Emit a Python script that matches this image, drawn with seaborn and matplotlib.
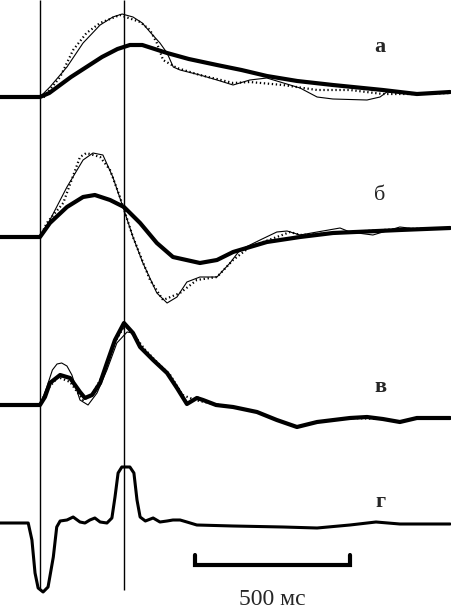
import matplotlib
matplotlib.use("Agg")
import matplotlib.pyplot as plt
import seaborn as sns

# time in ms (0 = first vertical line), amplitude in arbitrary units (up = positive)

# panel а
a_thick_t = [-129, 0, 30, 65, 100, 150, 200, 250, 290, 330, 410, 480, 571, 650, 732, 830, 945, 1106, 1216, 1270, 1323]
a_thick_v = [0, 0, 4, 12, 20, 30, 40, 48, 52, 52, 44, 38, 32, 27, 21, 16, 12, 7, 3, 4, 5]
a_thin_t = [-129, 0, 32, 87, 139, 194, 235, 265, 300, 330, 355, 387, 410, 430, 452, 516, 571, 623, 677, 732, 839, 894, 945, 1055, 1097, 1119, 1216, 1323]
a_thin_v = [0, 0, 10, 30, 54, 72, 80, 83, 80, 74, 65, 54, 44, 30, 27, 22, 17, 12, 17, 19, 9, 0, -2, -3, 0, 5, 3, 4]
a_dot_t = [-129, 0, 10, 65, 107, 150, 194, 258, 323, 355, 377, 397, 442, 516, 571, 623, 677, 784, 894, 1000, 1106, 1216, 1323]
a_dot_v = [0, 0, -1, 20, 47, 64, 74, 82, 75, 67, 54, 37, 29, 22, 18, 14, 15, 12, 7, 7, 3, 3, 4]

# panel б
b_thick_t = [-129, 0, 32, 87, 139, 177, 226, 271, 323, 377, 429, 516, 571, 623, 732, 839, 945, 1161, 1323]
b_thick_v = [0, 0, 14, 30, 40, 42, 37, 30, 14, -6, -20, -26, -23, -15, -5, 0, 4, 7, 9]
b_thin_t = [-129, 0, 32, 87, 139, 171, 203, 235, 271, 300, 332, 377, 410, 442, 474, 516, 571, 613, 645, 710, 764, 797, 839, 968, 1000, 1074, 1161, 1216, 1323]
b_thin_v = [0, 0, 17, 50, 77, 84, 82, 60, 27, 0, -26, -56, -66, -60, -45, -40, -40, -26, -13, -3, 5, 6, 2, 9, 5, 2, 10, 8, 9]
b_dot_t = [-129, 0, 22, 75, 129, 150, 194, 226, 258, 300, 355, 397, 452, 506, 571, 623, 677, 764, 807, 839, 945, 1161, 1323]
b_dot_v = [0, 0, 14, 34, 80, 84, 80, 67, 40, 0, -43, -63, -56, -43, -40, -23, -10, 0, 5, 2, 4, 8, 9]

# panel в
v_thick_t = [-129, 0, 16, 32, 65, 97, 129, 145, 168, 194, 216, 242, 271, 300, 323, 365, 410, 442, 474, 506, 526, 568, 623, 700, 764, 829, 894, 1000, 1055, 1106, 1161, 1216, 1323]
v_thick_v = [0, 0, 8, 22, 30, 27, 13, 7, 10, 22, 42, 65, 82, 72, 58, 45, 32, 17, 1, 7, 5, 0, -2, -7, -15, -22, -17, -13, -12, -14, -17, -13, -13]
v_thin_t = [-129, 0, 22, 40, 55, 70, 87, 103, 129, 155, 184, 216, 248, 281, 300, 323, 365, 410, 442, 474, 510, 535, 568, 623]
v_thin_v = [0, 0, 18, 35, 41, 42, 39, 30, 5, 0, 12, 35, 62, 73, 72, 58, 45, 32, 17, 1, 8, 3, 0, -2]
v_dot_t = [-129, 0, 22, 58, 97, 139, 168, 206, 242, 274, 310, 340, 380, 420, 460, 500, 560, 623, 700, 764, 829, 894, 1000, 1106, 1161, 1216, 1323]
v_dot_v = [0, 0, 15, 28, 23, 5, 10, 32, 63, 80, 67, 55, 42, 30, 10, 5, 1, -2, -7, -15, -22, -17, -13, -14, -17, -13, -13]

# panel г
g_t = [-129, -38, -26, -16, -6, 10, 26, 43, 54, 65, 87, 107, 129, 145, 161, 177, 194, 216, 232, 242, 252, 264, 290, 303, 313, 323, 340, 365, 387, 410, 429, 452, 474, 506, 623, 784, 894, 1000, 1084, 1161, 1323]
g_v = [0, 0, -17, -50, -65, -69, -64, -34, -4, 2, 3, 6, 1, 0, 3, 5, 1, 0, 5, 26, 50, 56, 56, 50, 23, 6, 2, 5, 1, 2, 3, 3, 1, -2, -3, -4, -5, -2, 1, -1, -1]

panel_labels = ["а", "б", "в", "г"]
scale_ms = [500, 1000]
scale_text = "500 мс"
marker_times = [0, 271]

sns.set_style("white")
plt.rcParams["font.family"] = ["Liberation Serif", "DejaVu Serif"]

fig = plt.figure(figsize=(4.51, 6.09), dpi=100)
ax = fig.add_axes([0, 0, 1, 1])

baselines = {"а": 97, "б": 237, "в": 405, "г": 523}


def draw(t, v, base, **kw):
    sns.lineplot(x=t, y=[val - base for val in v], ax=ax, color="black",
                 estimator=None, sort=False, **kw)


panels = [
    ("а", a_dot_t, a_dot_v, a_thin_t, a_thin_v, a_thick_t, a_thick_v),
    ("б", b_dot_t, b_dot_v, b_thin_t, b_thin_v, b_thick_t, b_thick_v),
    ("в", v_dot_t, v_dot_v, v_thin_t, v_thin_v, v_thick_t, v_thick_v),
]
for name, dt, dv, tt, tv, kt, kv in panels:
    base = baselines[name]
    draw(dt, dv, base, lw=1.6, linestyle=(0, (0.6, 1.2)))
    draw(tt, tv, base, lw=0.8)
    draw(kt, kv, base, lw=3.0)

draw(g_t, g_v, baselines["г"], lw=2.2)

# vertical marker lines
ax.vlines(marker_times, -590, 0, color="black", lw=1.0)

# panel letters
label_y = {"а": 47, "б": 195, "в": 387, "г": 502}
label_w = {"а": "bold", "б": "normal", "в": "bold", "г": "bold"}
for lab in panel_labels:
    ax.text(1097, -label_y[lab], lab, fontsize=16, fontweight=label_w[lab],
            ha="center", va="center")

# scale bar
ax.plot([scale_ms[0], scale_ms[0], scale_ms[1], scale_ms[1]], [-555, -565, -565, -555],
        color="black", lw=3.0, solid_joinstyle="miter")
ax.text(sum(scale_ms) / 2, -605, scale_text, fontsize=17, ha="center", va="baseline")

ax.set_xlim(-129, 1326)
ax.set_ylim(-609, 0)
ax.axis("off")
fig.savefig("out.png", dpi=100)
